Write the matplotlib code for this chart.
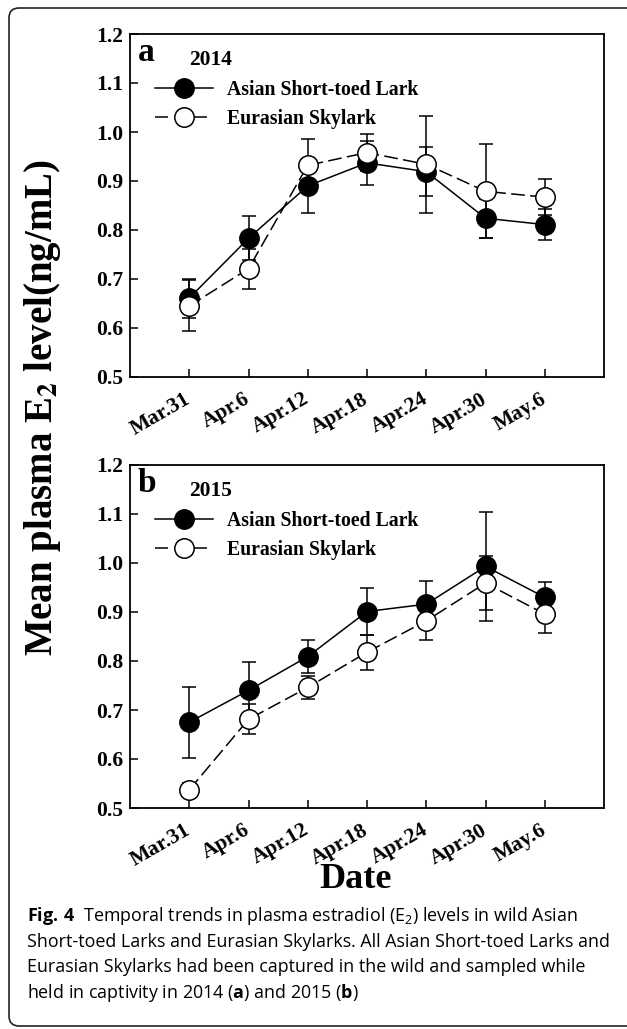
import matplotlib
matplotlib.use("Agg")
import matplotlib.pyplot as plt
from matplotlib.path import Path
from matplotlib.patches import PathPatch
from matplotlib.lines import Line2D
from matplotlib.transforms import Affine2D

# ---------------- data ----------------
dates = ['Mar.31', 'Apr.6', 'Apr.12', 'Apr.18', 'Apr.24', 'Apr.30', 'May.6']
series_names = ['Asian Short-toed Lark', 'Eurasian Skylark']

a_asian = [0.661, 0.783, 0.890, 0.937, 0.919, 0.824, 0.811]
a_asian_err = [0.040, 0.045, 0.055, 0.045, 0.050, 0.040, 0.031]
a_eura = [0.645, 0.721, 0.932, 0.958, 0.934, 0.879, 0.867]
a_eura_err = [0.052, 0.041, 0.053, 0.037, 0.099, 0.096, 0.037]

b_asian = [0.675, 0.740, 0.809, 0.901, 0.916, 0.993, 0.930]
b_asian_err = [0.072, 0.057, 0.034, 0.047, 0.047, 0.112, 0.031]
b_eura = [0.537, 0.681, 0.746, 0.818, 0.882, 0.959, 0.896]
b_eura_err = [0.015, 0.031, 0.024, 0.036, 0.039, 0.055, 0.038]

yticks = [0.5, 0.6, 0.7, 0.8, 0.9, 1.0, 1.1, 1.2]
panel_letters = ['a', 'b']
years = ['2014', '2015']

# ---------------- figure ----------------
W, H = 627, 1029
DPI = 100
fig = plt.figure(figsize=(W / DPI, H / DPI), dpi=DPI)
SERIF = 'Liberation Serif'


def fx(px):
    return px / W


def fy(py):
    return 1 - py / H


ax_left, ax_right = 130, 604
panels = [(34, 377), (465, 808)]
data = [(a_asian, a_asian_err, a_eura, a_eura_err),
        (b_asian, b_asian_err, b_eura, b_eura_err)]

x = list(range(len(dates)))
for i, ((top, bot), (s1, e1, s2, e2)) in enumerate(zip(panels, data)):
    ax = fig.add_axes([fx(ax_left), fy(bot), (ax_right - ax_left) / W, (bot - top) / H])
    ax.errorbar(x, s1, yerr=e1, fmt='o', ls='-', color='k', mfc='k', mec='k',
                ms=14, lw=1.1, elinewidth=1.1, capsize=5, capthick=1.1, zorder=3)
    ax.errorbar(x, s2, yerr=e2, fmt='o', ls=(0, (9, 3.5)), color='k', mfc='white', mec='k',
                ms=14, mew=1.1, lw=1.1, elinewidth=1.1, capsize=5, capthick=1.1, zorder=4)
    ax.set_xlim(-1, 7)
    ax.set_ylim(0.5, 1.2)
    ax.set_yticks(yticks)
    ax.set_yticklabels([f'{v:.1f}' for v in yticks])
    ax.set_xticks(x)
    ax.set_xticklabels(dates, rotation=30, ha='right', va='center', rotation_mode='anchor')
    ax.tick_params(axis='both', direction='in', length=6, width=1.1)
    ax.tick_params(axis='y', pad=5, labelsize=15.5)
    ax.tick_params(axis='x', pad=15, labelsize=15.5)
    for lab in ax.get_xticklabels() + ax.get_yticklabels():
        lab.set_fontfamily(SERIF)
        lab.set_fontweight('bold')
    for sp in ax.spines.values():
        sp.set_linewidth(1.3)

    ax.text(0.016, 0.99, panel_letters[i], transform=ax.transAxes, fontsize=24,
            fontweight='bold', family=SERIF, ha='left', va='top')
    ax.text(0.125, 0.925, years[i], transform=ax.transAxes, fontsize=15.5,
            fontweight='bold', family=SERIF, ha='left', va='center')

    h1 = Line2D([], [], color='k', ls='-', lw=1.1, marker='o', ms=14, mfc='k', mec='k')
    h2 = Line2D([], [], color='k', ls=(0, (8.5, 17)), lw=1.1, marker='o', ms=14,
                mfc='white', mec='k', mew=1.1)
    ax.legend([h1, h2], series_names, loc='upper left', bbox_to_anchor=(0.052, 0.865),
              frameon=False, borderpad=0, borderaxespad=0, handlelength=2.95,
              handletextpad=0.72, labelspacing=0.42,
              prop={'family': SERIF, 'weight': 'bold', 'size': 14.2})

# y label
fig.text(fx(43), fy(408), r'Mean plasma E$_\mathbf{2}$ level(ng/mL)', rotation=90,
         ha='center', va='center', fontsize=28, fontweight='bold', family=SERIF,
         math_fontfamily='stix')
# x label
fig.text(fx(356), fy(880), 'Date', ha='center', va='center', fontsize=26,
         fontweight='bold', family=SERIF)

# caption
plt.rcParams['mathtext.fontset'] = 'custom'
plt.rcParams['mathtext.rm'] = 'Open Sans'
plt.rcParams['mathtext.bf'] = 'Open Sans:bold'
cap_lines = [
    r'$\mathbf{Fig.\,4}$  Temporal trends in plasma estradiol (E$_2$) levels in wild Asian',
    'Short-toed Larks and Eurasian Skylarks. All Asian Short-toed Larks and',
    'Eurasian Skylarks had been captured in the wild and sampled while',
    r'held in captivity in 2014 ($\mathbf{a}$) and 2015 ($\mathbf{b}$)',
]
cap_y = [916, 942, 967, 993]
for t, yy in zip(cap_lines, cap_y):
    fig.text(fx(27), fy(yy), t, ha='left', va='center', fontsize=12.85,
             family='Open Sans', math_fontfamily='custom')

# frame (top and left borders with rounded corners)
r = 10
verts = [(700, 8), (9 + r, 8), (9, 8), (9, 8 + r), (9, 1026 - r), (9, 1026), (9 + r, 1026), (700, 1026)]
codes = [Path.MOVETO, Path.LINETO, Path.CURVE3, Path.CURVE3, Path.LINETO, Path.CURVE3, Path.CURVE3, Path.LINETO]
tr = Affine2D().scale(1 / W, -1 / H).translate(0, 1) + fig.transFigure
fig.patches.append(PathPatch(Path(verts, codes), fill=False, lw=1.2, ec='#222222', transform=tr))

fig.savefig('out.png', dpi=DPI)
